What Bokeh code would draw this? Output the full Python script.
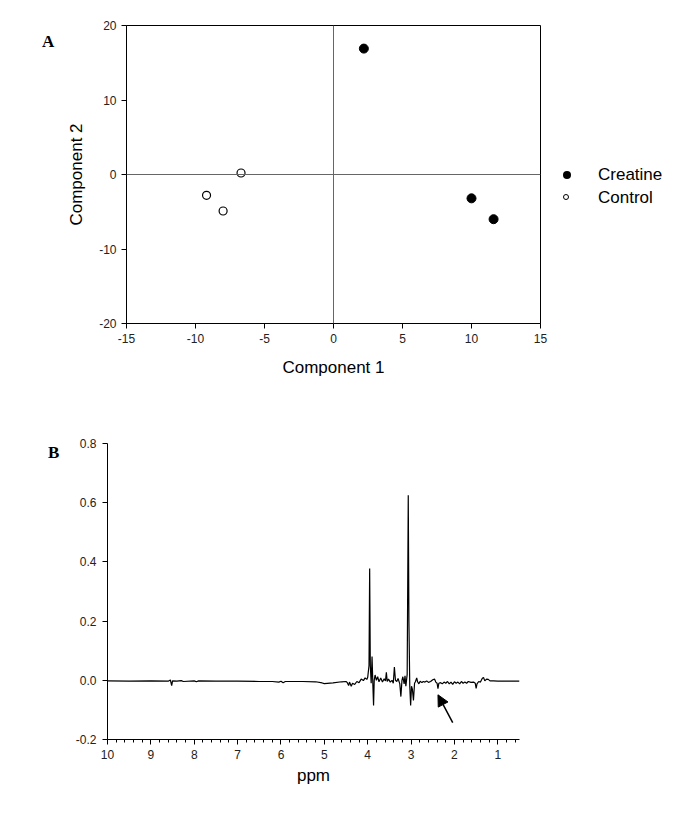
from bokeh.plotting import figure
from bokeh.models import (Range1d, Span, Arrow, NormalHead, Div,
                          FixedTicker, PrintfTickFormatter, ColumnDataSource)
from bokeh.layouts import row
from bokeh.embed import file_html
from bokeh.resources import INLINE

# ---------------- data ----------------
series_names = ["Creatine", "Control"]
creatine_c1 = [2.2, 10.0, 11.6]
creatine_c2 = [16.9, -3.2, -6.0]
control_c1 = [-6.7, -9.2, -8.0]
control_c2 = [0.2, -2.8, -4.9]

ppm = [10.0, 9.5, 9.0, 8.6, 8.55, 8.52, 8.5, 8.4, 8.3, 8.25, 8.0, 7.95, 7.9, 7.5, 7.0,
       6.5, 6.2, 6.05, 6.0, 5.95, 5.9, 5.5, 5.2, 5.05, 5.0, 4.8, 4.6, 4.5, 4.47, 4.44,
       4.42, 4.38, 4.35, 4.3, 4.25, 4.2, 4.15, 4.1, 4.06, 4.02, 4.0, 3.97, 3.955, 3.94,
       3.92, 3.90, 3.88, 3.865, 3.85, 3.83, 3.80, 3.77, 3.74, 3.70, 3.66, 3.62, 3.59,
       3.57, 3.55, 3.52, 3.48, 3.44, 3.41, 3.385, 3.36, 3.33, 3.30, 3.26, 3.235, 3.21,
       3.19, 3.16, 3.14, 3.12, 3.09, 3.065, 3.05, 3.03, 3.01, 2.99, 2.97, 2.945, 2.92,
       2.90, 2.87, 2.85, 2.82, 2.79, 2.75, 2.72, 2.68, 2.64, 2.60, 2.55, 2.50, 2.46,
       2.43, 2.40, 2.38, 2.36, 2.32, 2.28, 2.24, 2.20, 2.16, 2.12, 2.08, 2.04, 2.0,
       1.96, 1.92, 1.88, 1.84, 1.80, 1.76, 1.72, 1.68, 1.62, 1.56, 1.52, 1.50, 1.48,
       1.44, 1.40, 1.36, 1.33, 1.30, 1.26, 1.22, 1.18, 1.1, 1.0, 0.8, 0.5]
intensity = [-0.002, -0.003, -0.002, -0.003, 0.001, -0.018, -0.002, -0.003, -0.001, -0.004,
             -0.002, -0.005, -0.002, -0.003, -0.003, -0.004, -0.004, -0.006, -0.003, -0.008,
             -0.004, -0.004, -0.005, -0.009, -0.011, -0.009, -0.005, -0.004, -0.008, -0.018,
             -0.006, -0.020, -0.010, -0.014, -0.004, -0.008, 0.004, -0.001, 0.008, 0.003,
             0.010, 0.050, 0.378, 0.050, -0.010, 0.080, -0.020, -0.085, 0.000, 0.018,
             0.000, 0.012, -0.005, 0.008, -0.006, 0.005, -0.002, 0.027, -0.004, 0.004,
             -0.006, 0.000, -0.010, 0.045, 0.000, -0.004, 0.006, -0.012, -0.055, 0.000,
             0.012, -0.012, 0.015, -0.020, 0.020, 0.625, 0.200, -0.020, -0.085, -0.020,
             -0.030, -0.068, -0.010, -0.005, 0.008, -0.005, -0.012, -0.003, -0.008, -0.004,
             -0.006, -0.002, -0.007, -0.004, 0.002, 0.004, -0.006, -0.010, -0.028, -0.010,
             -0.008, -0.012, -0.006, -0.010, -0.004, -0.012, -0.006, -0.014, -0.005, -0.010,
             -0.006, -0.012, -0.004, -0.010, -0.006, -0.010, -0.004, -0.007, -0.006, -0.010,
             -0.027, -0.012, -0.004, -0.006, 0.006, 0.010, -0.002, 0.004, 0.003, -0.002,
             -0.002, -0.003, -0.003, -0.003]

xticks_a = [-15, -10, -5, 0, 5, 10, 15]
yticks_a = [-20, -10, 0, 10, 20]
xticks_b = [10, 9, 8, 7, 6, 5, 4, 3, 2, 1]
yticks_b = [-0.2, 0.0, 0.2, 0.4, 0.6, 0.8]

TICK_FONT = "Liberation Sans"
LABEL_FONT = "Liberation Sans"


def style_axes(p):
    for ax in (p.xaxis[0], p.yaxis[0]):
        ax.axis_line_color = "black"
        ax.major_tick_line_color = "black"
        ax.major_tick_in = 0
        ax.major_tick_out = 5
        ax.major_label_text_font = TICK_FONT
        ax.major_label_text_font_size = "12px"
        ax.major_label_text_color = "#222222"
        ax.axis_label_text_font = LABEL_FONT
        ax.axis_label_text_font_size = "17px"
        ax.axis_label_text_font_style = "normal"
        ax.axis_label_text_color = "black"
    p.xgrid.visible = False
    p.ygrid.visible = False


def panel_letter(letter, left, top, width):
    html = ('<div style="padding-left:%dpx;padding-top:%dpx;font-family:\'Liberation Serif\',serif;'
            'font-weight:bold;font-size:17px;line-height:20px;color:black">%s</div>' % (left, top, letter))
    return Div(text=html, width=width, margin=0)


def legend_div(names):
    html = (
        '<div style="position:relative;width:130px;height:400px;'
        'font-family:\'Liberation Sans\',sans-serif;font-size:17px;color:black">'
        '<span style="position:absolute;left:13px;top:171px;width:8px;height:8px;'
        'border-radius:50%%;background:black"></span>'
        '<span style="position:absolute;left:48px;top:164px;line-height:22px;white-space:nowrap">%s</span>'
        '<span style="position:absolute;left:13px;top:194px;width:6px;height:6px;'
        'border-radius:50%%;border:1px solid black;background:white"></span>'
        '<span style="position:absolute;left:48px;top:187px;line-height:22px;white-space:nowrap">%s</span>'
        '</div>' % (names[0], names[1]))
    return Div(text=html, width=130, height=400, margin=0)


# ---------------- Panel A ----------------
pa = figure(width=490, height=400, output_backend="svg", toolbar_location=None,
            x_range=Range1d(-15, 15), y_range=Range1d(-20, 20),
            min_border_left=66, min_border_right=10, min_border_top=25, min_border_bottom=77,
            x_axis_label="Component 1", y_axis_label="Component 2", margin=0)
style_axes(pa)
pa.outline_line_color = "black"
pa.outline_line_width = 1
pa.xaxis.ticker = FixedTicker(ticks=xticks_a)
pa.yaxis.ticker = FixedTicker(ticks=yticks_a)
pa.xaxis.formatter = PrintfTickFormatter(format="%d")
pa.yaxis.formatter = PrintfTickFormatter(format="%d")
pa.xaxis.minor_tick_line_color = None
pa.yaxis.minor_tick_line_color = None
pa.xaxis.axis_label_standoff = 12
pa.yaxis.axis_label_standoff = 10

pa.add_layout(Span(location=0, dimension="width", line_color="#666666", line_width=1))
pa.add_layout(Span(location=0, dimension="height", line_color="#666666", line_width=1))

pa.scatter(creatine_c1, creatine_c2, marker="circle", size=9,
           fill_color="black", line_color="black")
pa.scatter(control_c1, control_c2, marker="circle", size=8,
           fill_color="white", line_color="black", line_width=1.2)

# ---------------- Panel B ----------------
pb = figure(width=620, height=399, output_backend="svg", toolbar_location=None,
            x_range=Range1d(10, 0.5), y_range=Range1d(-0.2, 0.8),
            min_border_left=47, min_border_right=161, min_border_top=43, min_border_bottom=60,
            x_axis_label="ppm", margin=0)
style_axes(pb)
pb.outline_line_color = None
pb.xaxis.ticker = FixedTicker(ticks=xticks_b,
                              minor_ticks=[round(10 - 0.2 * i, 1) for i in range(48)])
pb.yaxis.ticker = FixedTicker(ticks=yticks_b)
pb.xaxis.formatter = PrintfTickFormatter(format="%d")
pb.yaxis.formatter = PrintfTickFormatter(format="%.1f")
pb.xaxis.minor_tick_line_color = "black"
pb.xaxis.minor_tick_in = 0
pb.xaxis.minor_tick_out = 3
pb.yaxis.minor_tick_line_color = None
pb.xaxis.axis_label_standoff = 4
pb.yaxis.major_label_standoff = 6

src = ColumnDataSource(dict(ppm=ppm, intensity=intensity))
pb.line("ppm", "intensity", source=src, line_color="black", line_width=1.2)

pb.add_layout(Arrow(end=NormalHead(size=11, fill_color="black", line_color="black"),
                    x_start=2.04, y_start=-0.143, x_end=2.38, y_end=-0.049,
                    line_color="black", line_width=1.5))

row_a = row(panel_letter("A", 42, 32, 60), pa, legend_div(series_names), margin=0)
row_b = row(panel_letter("B", 48, 43, 60), pb, margin=0)

open("out.html", "w").write(file_html([row_a, row_b], INLINE))
